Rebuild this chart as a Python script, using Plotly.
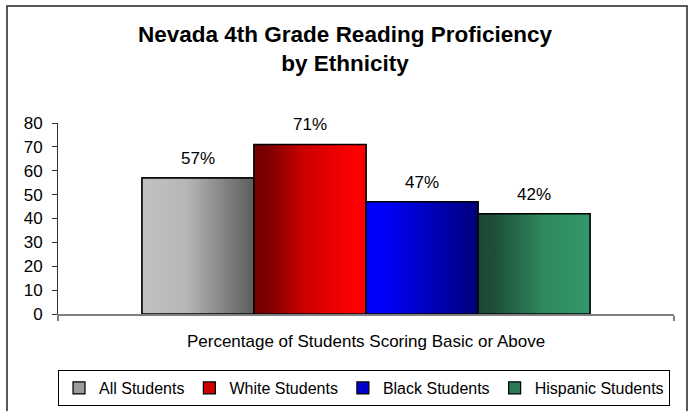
import plotly.graph_objects as go

# ---- data ----
category = "Percentage of Students Scoring Basic or Above"
groups = ["All Students", "White Students", "Black Students", "Hispanic Students"]
values = [57, 71, 47, 42]
y_ticks = [0, 10, 20, 30, 40, 50, 60, 70, 80]

# ---- styles ----
gradients = [
    [[0, "#c2c2c2"], [0.4, "#b6b6b6"], [1, "#5c5c5c"]],
    [[0, "#740000"], [0.12, "#7c0000"], [0.45, "#cc0000"], [0.9, "#ff0000"], [1, "#ff0000"]],
    [[0, "#0000ff"], [0.2, "#0000f6"], [1, "#00007a"]],
    [[0, "#1b4834"], [0.15, "#1d4f38"], [0.6, "#2f8a5f"], [1, "#35986a"]],
]
legend_colors = ["#9a9a9a", "#cc0000", "#0000cc", "#2a7a55"]

W, H = 690, 411
ml, mr, mt, mb = 58, 16, 123, 97
pw, ph = W - ml - mr, H - mt - mb

bargap = 1 - 448 / pw
group_w = 1 - bargap
bw = group_w / len(groups)

FONT = "Liberation Sans, Arial, sans-serif"

fig = go.Figure()
for i, (g, v) in enumerate(zip(groups, values)):
    xc = -group_w / 2 + bw * (i + 0.5)
    fig.add_trace(go.Bar(
        x=[xc], y=[v], width=[bw], name=g,
        marker=dict(color=legend_colors[i], line=dict(color="black", width=1.2)),
        hoverinfo="skip",
    ))
for i, (g, v) in enumerate(zip(groups, values)):
    xc = -group_w / 2 + bw * (i + 0.5)
    x0, x1 = xc - bw / 2, xc + bw / 2
    fig.add_trace(go.Scatter(
        x=[x0, x1, x1, x0, x0], y=[0, 0, v, v, 0],
        mode="lines", fill="toself",
        fillgradient=dict(type="horizontal", colorscale=gradients[i]),
        line=dict(color="black", width=1.5),
        showlegend=False, hoverinfo="skip",
    ))
    fig.add_annotation(x=xc, y=v, text=f"{v}%", showarrow=False,
                       yanchor="bottom", yshift=8,
                       font=dict(family=FONT, size=17, color="black"))

# outer frame (bottom edge runs past the picture)
fig.add_shape(type="rect", xref="paper", yref="paper",
              x0=(7 - ml) / pw, x1=(687 - ml) / pw,
              y0=-(416 - (H - mb)) / ph, y1=((H - mb) - 6) / ph,
              line=dict(color="#222222", width=1.5), layer="below")

fig.update_layout(
    width=W, height=H,
    margin=dict(l=ml, r=mr, t=mt, b=mb, autoexpand=False),
    paper_bgcolor="white", plot_bgcolor="white",
    showlegend=True,
    title=dict(text="<b>Nevada 4th Grade Reading Proficiency<br>by Ethnicity</b>",
               x=0.5, xref="container", xanchor="center",
               y=1 - 42 / H, yanchor="top",
               font=dict(family=FONT, size=22.5, color="black"),
               automargin=False),
    legend=dict(orientation="h", x=(364 - ml) / pw, xanchor="center",
                y=-(370 - (H - mb)) / ph, yanchor="top",
                bordercolor="black", borderwidth=1,
                font=dict(family=FONT, size=16, color="black"),
                itemwidth=30, tracegroupgap=0),
    xaxis=dict(range=[-0.5, 0.5], tickvals=[0], ticktext=[category],
               ticks="", showgrid=False, zeroline=False, automargin=False,
               showline=True, linecolor="#808080", linewidth=1.5,
               ticklabelstandoff=11,
               tickfont=dict(family=FONT, size=17, color="black"),
               minor=dict(tickvals=[-0.5, 0.5], ticks="outside", ticklen=5,
                          tickcolor="#808080", tickwidth=1.5),
               fixedrange=True),
    yaxis=dict(range=[0, 80], tickvals=y_ticks, ticks="outside", ticklen=5,
               tickcolor="#333333", showgrid=False, zeroline=False, automargin=False,
               showline=True, linecolor="#333333", linewidth=1,
               ticklabelstandoff=6,
               tickfont=dict(family=FONT, size=17, color="black"),
               fixedrange=True),
    bargap=bargap,
)

fig.write_html("out.html", config={"displayModeBar": False})
